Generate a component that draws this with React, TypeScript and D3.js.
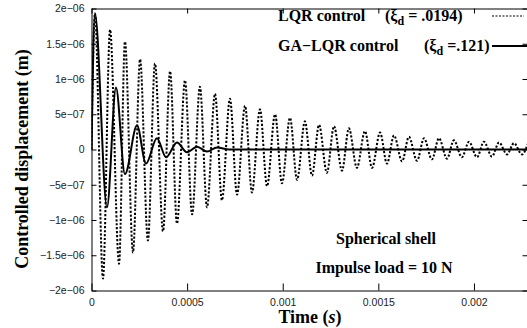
import { useEffect, useRef } from 'react';
import * as d3 from 'd3';

const W = 527;
const H = 328;

// time in microseconds, displacement in micrometres (extrema)
const lqrTimeUs = [
  0, 18, 60, 97, 144, 175, 217, 254, 295, 332,
  374, 411, 447, 489, 526, 567, 604, 646, 682, 724,
  761, 803, 839, 881, 918, 960, 996, 1038, 1075, 1116,
  1153, 1190, 1231, 1268, 1310, 1346, 1388, 1430, 1467, 1509,
  1545, 1582, 1624, 1660, 1702, 1739, 1780, 1817, 1859, 1895,
  1937, 1974, 2016, 2052, 2094, 2131, 2173, 2209, 2251, 2282,
];
const lqrDispUm = [
  0, 1.93, -1.83, 1.7, -1.62, 1.53, -1.46, 1.28, -1.29, 1.22,
  -1.16, 1.11, -1.05, 0.98, -0.92, 0.89, -0.82, 0.79, -0.72, 0.72,
  -0.64, 0.62, -0.61, 0.57, -0.52, 0.5, -0.48, 0.45, -0.43, 0.4,
  -0.37, 0.35, -0.33, 0.33, -0.3, 0.3, -0.26, 0.26, -0.26, 0.24,
  -0.2, 0.2, -0.17, 0.18, -0.16, 0.16, -0.14, 0.16, -0.13, 0.13,
  -0.11, 0.11, -0.11, 0.11, -0.1, 0.1, -0.07, 0.09, -0.07, 0.08,
];

const gaTimeUs = [0, 18, 81, 128, 175, 238, 285, 342, 390, 447, 499, 552, 604, 656, 720, 2282];
const gaDispUm = [0, 1.93, -0.82, 0.88, -0.35, 0.34, -0.2, 0.16, -0.11, 0.1, -0.04, 0.04, -0.03, 0.03, 0, 0];

const xTicks = [0, 0.0005, 0.001, 0.0015, 0.002];
const xTickLabels = ['0', '0.0005', '0.001', '0.0015', '0.002'];
const yTicks = [-2e-6, -1.5e-6, -1e-6, -5e-7, 0, 5e-7, 1e-6, 1.5e-6, 2e-6];
const yTickLabels = ['−2e−06', '−1.5e−06', '−1e−06', '−5e−07', '0', '5e−07', '1e−06', '1.5e−06', '2e−06'];

const SERIF = '"Liberation Serif", "Times New Roman", serif';
const SANS = '"Liberation Sans", Arial, sans-serif';

const App = () => {
  const svgRef = useRef<SVGSVGElement>(null);

  useEffect(() => {
    const svg = d3.select(svgRef.current);
    svg.selectAll('*').remove();

    const left = 91.5;
    const right = 527.5;
    const top = 8.5;
    const bottom = 290.5;

    const x = d3.scaleLinear().domain([0, 0.00228]).range([left, right]);
    const y = d3.scaleLinear().domain([-2e-6, 2e-6]).range([bottom, top]);

    const styleAxis = (g: any) => {
      g.attr('font-family', SANS).attr('font-size', 10.5);
      g.selectAll('path, line').attr('stroke', '#000');
      g.selectAll('text').attr('fill', '#222');
    };

    // ---- frame + ticks ----
    svg.append('g')
      .attr('transform', `translate(${left},0)`)
      .call(d3.axisLeft(y).tickValues(yTicks).tickSizeInner(-5).tickSizeOuter(0).tickPadding(7)
        .tickFormat((_d, i) => yTickLabels[i]))
      .call(styleAxis);

    svg.append('g')
      .attr('transform', `translate(${right},0)`)
      .call(d3.axisRight(y).tickValues(yTicks).tickSizeInner(-5).tickSizeOuter(0).tickFormat(() => ''))
      .call(styleAxis);

    svg.append('g')
      .attr('transform', `translate(0,${bottom})`)
      .call(d3.axisBottom(x).tickValues(xTicks).tickSizeInner(-7).tickSizeOuter(0).tickPadding(8)
        .tickFormat((_d, i) => xTickLabels[i]))
      .call(styleAxis);

    svg.append('g')
      .attr('transform', `translate(0,${top})`)
      .call(d3.axisTop(x).tickValues(xTicks).tickSizeInner(-5).tickSizeOuter(0).tickFormat(() => ''))
      .call(styleAxis);

    // ---- series ----
    svg.append('clipPath').attr('id', 'plot-clip')
      .append('rect').attr('x', left).attr('y', 0).attr('width', right - left).attr('height', bottom);

    const line = d3.line<[number, number]>()
      .x((d) => x(d[0] * 1e-6))
      .y((d) => y(d[1] * 1e-6))
      .curve(d3.curveMonotoneX);

    const lqr = lqrTimeUs.map((t, i) => [t, lqrDispUm[i]] as [number, number]);
    const ga = gaTimeUs.map((t, i) => [t, gaDispUm[i]] as [number, number]);

    const plot = svg.append('g').attr('clip-path', 'url(#plot-clip)');

    plot.append('path')
      .attr('d', line(lqr))
      .attr('fill', 'none')
      .attr('stroke', '#000')
      .attr('stroke-width', 2)
      .attr('stroke-dasharray', '2.2,1.8');

    plot.append('path')
      .attr('d', line(ga))
      .attr('fill', 'none')
      .attr('stroke', '#000')
      .attr('stroke-width', 2);

    // ---- legend ----
    const legend = svg.append('g')
      .attr('font-family', SERIF)
      .attr('font-weight', 'bold')
      .attr('font-size', 16)
      .attr('fill', '#000');

    legend.append('text').attr('x', 278).attr('y', 21).text('LQR control');
    const p1 = legend.append('text').attr('x', 385).attr('y', 21);
    p1.append('tspan').text('(ξ');
    p1.append('tspan').attr('dy', 4).attr('font-size', 12).text('d');
    p1.append('tspan').attr('dy', -4).text(' = .0194)');
    legend.append('line')
      .attr('x1', 492).attr('x2', 524).attr('y1', 16).attr('y2', 16)
      .attr('stroke', '#000').attr('stroke-width', 1.2).attr('stroke-dasharray', '2,1.5');

    legend.append('text').attr('x', 278).attr('y', 51).text('GA−LQR control');
    const p2 = legend.append('text').attr('x', 424).attr('y', 51);
    p2.append('tspan').text('(ξ');
    p2.append('tspan').attr('dy', 4).attr('font-size', 12).text('d');
    p2.append('tspan').attr('dy', -4).text(' =.121)');
    legend.append('line')
      .attr('x1', 492).attr('x2', 530).attr('y1', 46).attr('y2', 46)
      .attr('stroke', '#000').attr('stroke-width', 2);

    // ---- annotations ----
    const notes = svg.append('g')
      .attr('font-family', SERIF)
      .attr('font-weight', 'bold')
      .attr('font-size', 16)
      .attr('text-anchor', 'middle');
    notes.append('text').attr('x', 386).attr('y', 244).text('Spherical shell');
    notes.append('text').attr('x', 384).attr('y', 273).text('Impulse load = 10 N');

    // ---- axis titles ----
    const xt = svg.append('text')
      .attr('x', 310).attr('y', 323)
      .attr('text-anchor', 'middle')
      .attr('font-family', SERIF).attr('font-weight', 'bold').attr('font-size', 18);
    xt.append('tspan').text('Time (');
    xt.append('tspan').attr('font-style', 'italic').text('s');
    xt.append('tspan').text(')');

    svg.append('text')
      .attr('transform', 'translate(28,159) rotate(-90)')
      .attr('text-anchor', 'middle')
      .attr('font-family', SERIF).attr('font-weight', 'bold').attr('font-size', 18)
      .text('Controlled displacement (m)');
  }, []);

  return (
    <svg
      ref={svgRef}
      width={W}
      height={H}
      style={{ position: 'absolute', left: 0, top: 0, background: '#fff' }}
    />
  );
};

export default App;
